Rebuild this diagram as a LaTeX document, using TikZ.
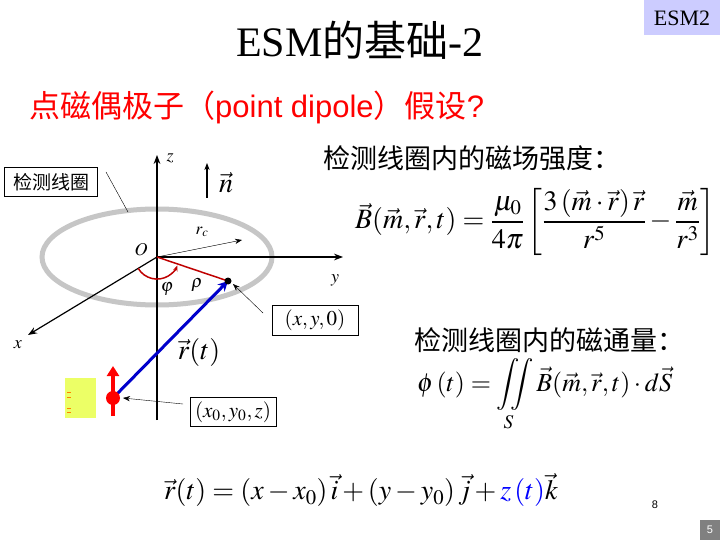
\documentclass[tikz,border=0pt]{standalone}
\usepackage{amsmath}
\usepackage{mathptmx}
\usepackage{fontspec}
\setmainfont{Liberation Serif}
\setsansfont{Liberation Sans}
\newfontfamily\cjk{Noto Sans CJK SC}
\usetikzlibrary{arrows.meta}
\begin{document}
\begin{tikzpicture}[x=1pt,y=-1pt,
  lbl/.style={inner sep=1pt},
  boxed/.style={draw,thin,fill=white,inner sep=3pt},
  ptr/.style={-{Stealth[length=7pt]},thin},
  axis/.style={-{Stealth[length=9pt]},line width=1.2pt}]
\useasboundingbox (0,0) rectangle (720,540);
\fill[white] (0,0) rectangle (720,540);
% header
\fill[blue!20] (644,0) rectangle (720,35);
\node[lbl] (esm) at (682,18) {\fontsize{22}{24}\selectfont ESM2};
\node[lbl] (title) at (360,40) {\fontsize{42}{46}\selectfont ESM{\cjk 的基础}-2};
\node[lbl,anchor=west,red] (sub) at (28,107) {\fontsize{31}{34}\selectfont\cjk 点磁偶极子（\sffamily point dipole\cjk ）假设\sffamily ?};
% ring
\draw[gray!45,line width=5pt] (157,257) ellipse (115 and 48);
% axes
\coordinate (O) at (157,257);
\coordinate (zt) at (157,155);
\coordinate (zb) at (157,420);
\draw[axis] (zb) -- (zt);
\node[lbl] (zl) at (170,158) {\fontsize{18}{20}\selectfont$z$};
\draw[axis] (O) -- (343,257) coordinate (yt);
\node[lbl] (yl) at (335,280) {\fontsize{18}{20}\selectfont$y$};
\draw[axis] (O) -- (28,335) coordinate (xt);
\node[lbl] (xl) at (18,345) {\fontsize{18}{20}\selectfont$x$};
\node[lbl] (Ol) at (141,250) {\fontsize{18}{20}\selectfont$O$};
\coordinate (nb) at (207,198);
\coordinate (nt) at (207,163);
\draw[-{Stealth[length=7pt]},line width=1.2pt] (nb) -- (nt);
\node[lbl] (nl) at (226,183) {\fontsize{28}{30}\selectfont$\vec n$};
\draw[ptr] (O) -- (242,240) coordinate (rc);
\node[lbl] (rcl) at (202,232) {\fontsize{17}{19}\selectfont$r_c$};
% point
\coordinate (P) at (228,281);
\draw[red!75!black,line width=1.5pt] (O) -- (P);
\draw[red!75!black,line width=1.5pt,-{Stealth[length=6pt]}] (138.2,268.4) arc[start angle=149,end angle=22,radius=22];
\node[lbl] (phil) at (167,289) {\fontsize{18}{20}\selectfont$\varphi$};
\node[lbl] (rhol) at (197,285) {\fontsize{18}{20}\selectfont$\rho$};
% dipole
\coordinate (D) at (113,398);
\draw[blue!80!black,line width=3pt,-{Stealth[length=10pt,width=10pt]}] (D) -- (P);
\fill[black] (P) circle (3.5);
\draw[red,line width=3.5pt,-{Triangle[length=10pt,width=12pt]}] (113,416) -- (113,366);
\fill[red] (D) circle (7);
\node[lbl] (rtl) at (199,352) {\fontsize{28}{30}\selectfont$\vec r(t)$};
\fill[lime!50!yellow!60] (65,378) rectangle (96,418);
\draw[orange,thin] (67,392)--(71,392) (67,397)--(71,397) (67,408)--(71,408) (67,412)--(71,412);
% boxes and pointers
\node[boxed,minimum width=93pt,minimum height=29pt] (coil) at (51,182) {\fontsize{19}{21}\selectfont\cjk 检测线圈};
\coordinate (ringpt) at (128,212);
\draw[thin] (ringpt) -- (106,172);
\node[boxed,minimum width=86pt,minimum height=30pt] (xy0) at (315,320) {\fontsize{21}{23}\selectfont$(x,y,0)$};
\coordinate (xy0p) at (263,313);
\draw[ptr] (xy0p) -- (233,284);
\node[boxed,minimum width=86pt,minimum height=29pt] (xyz) at (233,412) {\fontsize{21}{23}\selectfont$(x_0,y_0,z)$};
\coordinate (xyzp) at (183,404);
\draw[ptr] (xyzp) -- (123,398);
% right text
\node[lbl,anchor=west] (h1) at (322,158) {\fontsize{27}{29}\selectfont\cjk 检测线圈内的磁场强度：};
\node[lbl,anchor=east] (Bf) at (716,222) {\fontsize{28}{32}\selectfont$\vec B(\vec m,\vec r,t)=\dfrac{\mu_0}{4\pi}\left[\dfrac{3\left(\vec m\cdot\vec r\right)\vec r}{r^5}-\dfrac{\vec m}{r^3}\right]$};
\node[lbl,anchor=west] (h2) at (413,340) {\fontsize{27}{29}\selectfont\cjk 检测线圈内的磁通量：};
\node[lbl,anchor=west] (phif) at (416,395) {\fontsize{26}{30}\selectfont$\phi\left(t\right)=\displaystyle\iint\limits_{S}\vec B(\vec m,\vec r,t)\cdot d\vec S$};
\node[lbl] (rf) at (361,490) {\fontsize{28}{32}\selectfont$\vec r(t)=\left(x-x_0\right)\vec i+\left(y-y_0\right)\vec j+{\color{blue}z\left(t\right)}\vec k$};
% page numbers
\node[lbl] (p8) at (655,505) {\fontsize{11}{12}\selectfont\sffamily 8};
\fill[gray] (700,520) rectangle (720,540);
\node[lbl,white] (p5) at (710,530) {\fontsize{11}{12}\selectfont\sffamily 5};
\end{tikzpicture}
\end{document}
